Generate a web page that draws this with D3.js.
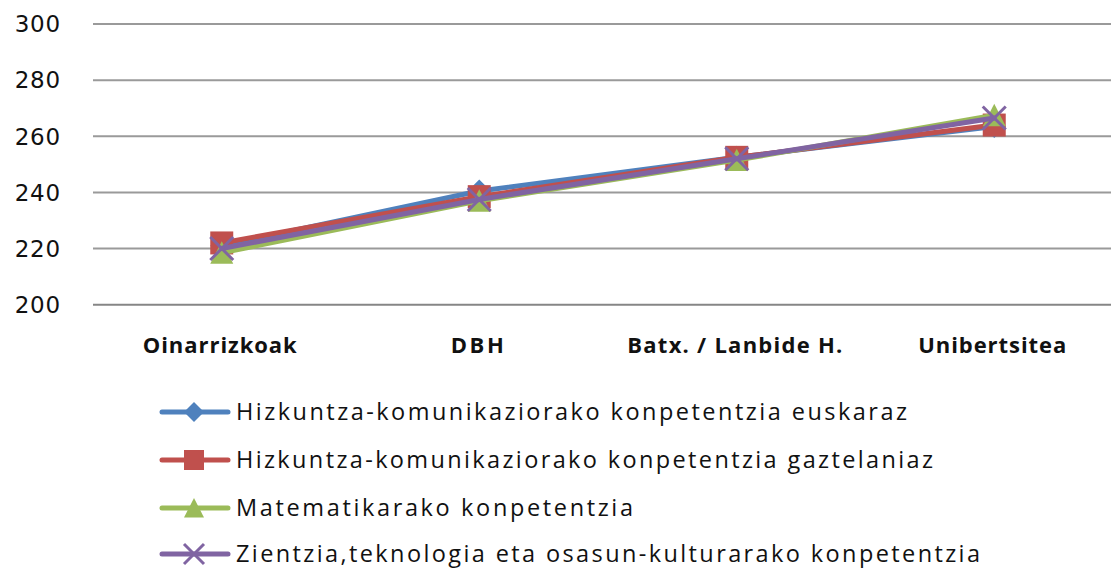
<!DOCTYPE html>
<html>
<head>
<meta charset="utf-8">
<script src="https://cdn.jsdelivr.net/npm/d3@7"></script>
<style>
  html, body { margin: 0; padding: 0; background: #fff; }
  svg { display: block; }
</style>
</head>
<body>
<script>
const categories = ["Oinarrizkoak", "DBH", "Batx. / Lanbide H.", "Unibertsitea"];
const categoryWidths = [154, 53, 215, 148];
const seriesNames = [
  "Hizkuntza-komunikaziorako konpetentzia euskaraz",
  "Hizkuntza-komunikaziorako konpetentzia gaztelaniaz",
  "Matematikarako konpetentzia",
  "Zientzia,teknologia eta osasun-kulturarako konpetentzia"
];
const euskaraz = [221, 240.5, 252.5, 263.5];
const gaztelaniaz = [222, 238.5, 252.5, 264];
const matematika = [218.5, 237, 251.5, 267.5];
const zientzia = [220, 237.5, 252, 266.5];
const yTicks = [200, 220, 240, 260, 280, 300];
const colors = ["#4F81BD", "#C0504D", "#9BBB59", "#8064A2"];
const markers = ["diamond", "square", "triangle", "x"];
const legendWidths = [671, 697, 397, 744];

const allValues = [euskaraz, gaztelaniaz, matematika, zientzia];

const W = 1111, H = 569;
const svg = d3.select("body").append("svg").attr("width", W).attr("height", H);

const x = d3.scaleBand().domain(categories).range([93, 1123]);
const y = d3.scaleLinear().domain([200, 300]).range([304.7, 24]);

// gridlines
svg.append("g").selectAll("line").data(yTicks).join("line")
  .attr("x1", 93).attr("x2", W)
  .attr("y1", d => y(d)).attr("y2", d => y(d))
  .attr("stroke", d => d === 200 ? "#868686" : "#9a9a9a")
  .attr("stroke-width", 2);

// y tick labels
svg.append("g").selectAll("text").data(yTicks).join("text")
  .attr("x", 61).attr("y", d => y(d))
  .attr("dy", "0.36em")
  .attr("text-anchor", "end")
  .attr("font-family", "DejaVu Sans")
  .attr("font-size", 23)
  .attr("letter-spacing", 0.8)
  .attr("fill", "#111")
  .text(d => d);

// category labels
svg.append("g").selectAll("text").data(categories).join("text")
  .attr("x", (d, i) => x(d) + x.bandwidth() / 2 - categoryWidths[i] / 2 - 2)
  .attr("y", 353)
  .attr("font-family", "Open Sans")
  .attr("font-weight", "bold")
  .attr("font-size", 22)
  .attr("fill", "#111")
  .attr("textLength", (d, i) => categoryWidths[i])
  .attr("lengthAdjust", "spacing")
  .text(d => d);

function markerPath(type, s) {
  const h = s / 2;
  if (type === "diamond") return `M0,${-h}L${h},0L0,${h}L${-h},0Z`;
  if (type === "square") return `M${-h},${-h}H${h}V${h}H${-h}Z`;
  if (type === "triangle") return `M0,${-h}L${h},${h * 0.95}L${-h},${h * 0.95}Z`;
  return `M${-h},${-h}L${h},${h}M${h},${-h}L${-h},${h}`;
}
function drawMarker(g, type, color, cx, cy, s) {
  const p = g.append("path").attr("d", markerPath(type, s))
    .attr("transform", `translate(${cx},${cy})`);
  if (type === "x") p.attr("fill", "none").attr("stroke", color).attr("stroke-width", 3);
  else p.attr("fill", color).attr("stroke", "none");
}

const line = d3.line()
  .x((d, i) => x(categories[i]) + x.bandwidth() / 2)
  .y(d => y(d));

allValues.forEach((vals, si) => {
  const g = svg.append("g");
  g.append("path").datum(vals).attr("d", line)
    .attr("fill", "none").attr("stroke", colors[si])
    .attr("stroke-width", 5).attr("stroke-linejoin", "round").attr("stroke-linecap", "round");
  vals.forEach((v, i) => {
    drawMarker(g, markers[si], colors[si], x(categories[i]) + x.bandwidth() / 2, y(v), 23);
  });
});

// legend
const legendY = [412, 460, 508, 554];
seriesNames.forEach((name, si) => {
  const g = svg.append("g");
  const ly = legendY[si];
  g.append("line").attr("x1", 162).attr("x2", 228).attr("y1", ly).attr("y2", ly)
    .attr("stroke", colors[si]).attr("stroke-width", 5).attr("stroke-linecap", "round");
  drawMarker(g, markers[si], colors[si], 194, ly, 20);
  g.append("text").attr("x", 236).attr("y", ly).attr("dy", "0.36em")
    .attr("font-family", "Open Sans").attr("font-size", 23.5)
    .attr("fill", "#111")
    .attr("textLength", legendWidths[si]).attr("lengthAdjust", "spacing")
    .text(name);
});
</script>
</body>
</html>
